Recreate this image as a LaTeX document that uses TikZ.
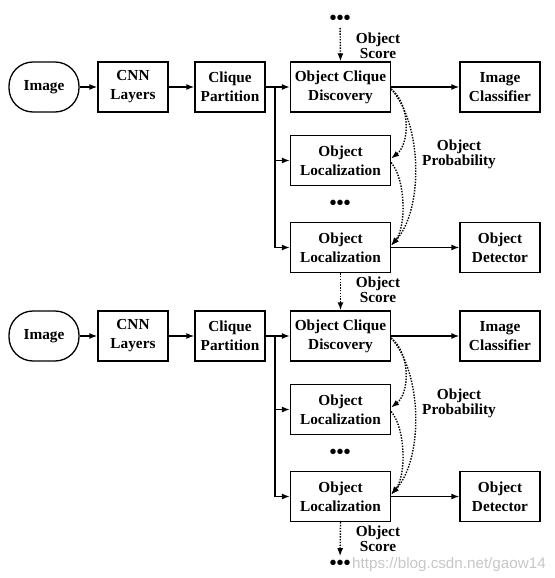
\documentclass[tikz,border=0pt]{standalone}
\usepackage{fontspec}
\setmainfont{Liberation Serif}
\newfontfamily\wmfont{Liberation Sans}
\usetikzlibrary{arrows.meta}
\tikzset{
  every node/.style={font=\bfseries\fontsize{15.3}{19}\selectfont},
  box/.style={draw, line width=1.3pt, inner sep=0pt, minimum height=50pt, align=center},
  term/.style={box, rounded corners=24pt, minimum width=70pt},
  arr/.style={line width=1.3pt, -{Latex[length=8pt,width=6pt]}},
  plainline/.style={line width=1.3pt},
  dotarr/.style={line width=1.4pt, dash pattern=on 1.4pt off 1.4pt, -{Latex[length=8pt,width=6pt]}},
  lbl/.style={align=center, font=\bfseries\fontsize{15.3}{15}\selectfont},
  dotsnode/.style={inner sep=0pt, font=\bfseries\fontsize{20}{20}\selectfont},
  scorelbl/.style={lbl},
}
\newcommand\drawblock[2]{%
\begin{scope}[shift={(0,#2)}]
  \node[term] (img#1) at (44,87) {Image};
  \node[box, minimum width=70pt] (cnn#1) at (133,87) {CNN\\Layers};
  \node[box, minimum width=70pt] (part#1) at (230,87) {Clique\\Partition};
  \node[box, minimum width=100pt] (disc#1) at (340.5,87) {Object Clique\\Discovery};
  \node[box, minimum width=80pt] (cls#1) at (500,87) {Image\\Classifier};
  \node[box, minimum width=100pt] (loca#1) at (340.5,160.5) {Object\\Localization};
  \node[dotsnode] (mid#1) at (340,205) {•••};
  \node[box, minimum width=100pt] (locb#1) at (340.5,247.5) {Object\\Localization};
  \node[box, minimum width=80pt] (det#1) at (500,247.5) {Object\\Detector};
  \node[lbl] (prob#1) at (459,154) {Object\\Probability};
  \node[scorelbl] (score#1) at (378,290) {Object\\Score};
  \coordinate (br#1) at (275,87);
  \draw[arr] (img#1) -- (cnn#1);
  \draw[arr] (cnn#1) -- (part#1);
  \draw[plainline] (part#1.east) -- (br#1);
  \draw[arr] (br#1) -- (disc#1.west);
  \draw[arr] (br#1) |- (loca#1.west);
  \draw[arr] (br#1) |- (locb#1.west);
  \draw[arr] (disc#1) -- (cls#1);
  \draw[arr] (locb#1) -- (det#1);
  \draw[dotarr] ([yshift=-2pt]disc#1.east) .. controls +(19,15) and +(19,-15) .. ([yshift=2pt]loca#1.east);
  \draw[dotarr] ([yshift=-2pt]disc#1.east) .. controls +(32,36) and +(32,-35) .. ([yshift=2pt]locb#1.east);
  \draw[dotarr] ([yshift=-2pt]loca#1.east) .. controls +(15,18) and +(15,-18) .. ([yshift=2pt]locb#1.east);
\end{scope}}
\begin{document}
\begin{tikzpicture}[x=1pt, y=-1pt]
  \useasboundingbox (0,0) rectangle (554,578);
  \drawblock{1}{0}
  \drawblock{2}{249}
  \node[dotsnode] (topdots) at (340,20) {•••};
  \node[lbl] (topscore) at (378,46) {Object\\Score};
  \node[dotsnode] (botdots) at (340,565) {•••};
  \draw[dotarr, shorten <=3pt] (topdots) -- (disc1.north);
  \draw[dotarr] (locb1.south) -- (disc2.north);
  \draw[dotarr, shorten >=4pt] (locb2.south) -- (botdots.north);
  \node[anchor=base west, font=\wmfont\fontsize{15.2}{16}\selectfont, text=black!22, inner sep=0pt] (wm) at (352,568) {https://blog.csdn.net/gaow14};
\end{tikzpicture}
\end{document}
